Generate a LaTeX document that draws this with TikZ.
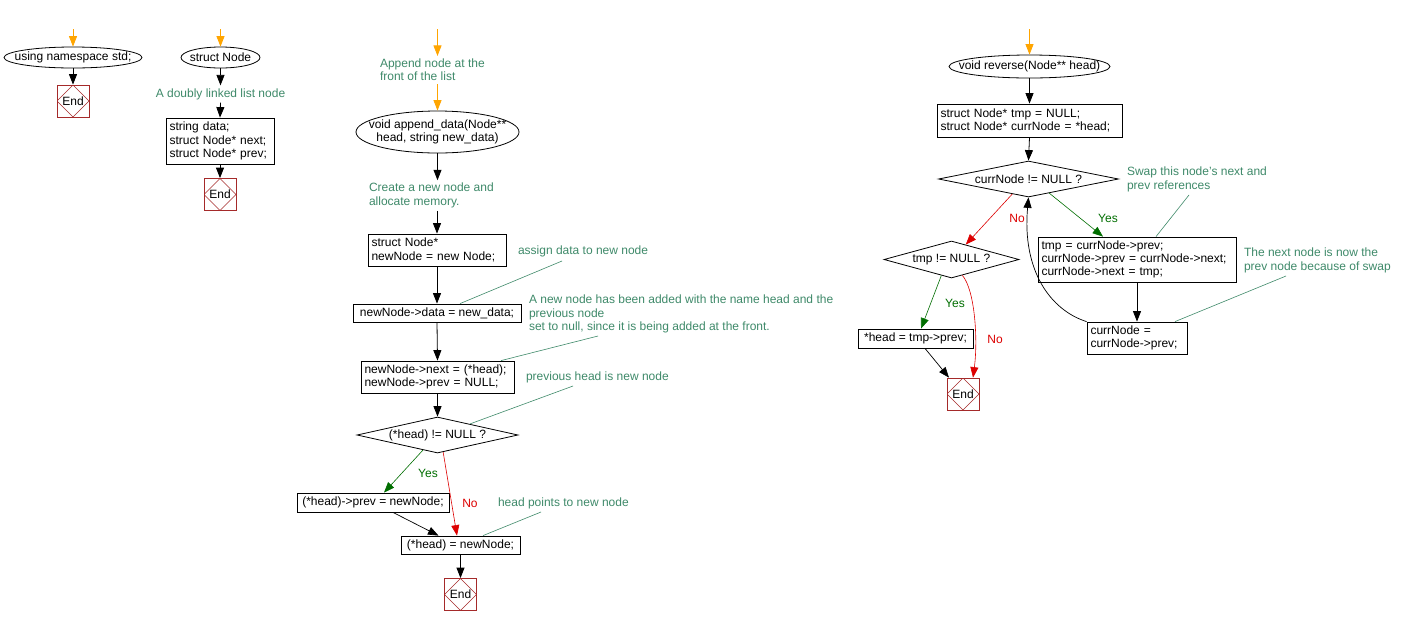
\documentclass[tikz,border=0pt]{standalone}
\usepackage{fontspec}
\setmainfont{Liberation Sans}
\usetikzlibrary{shapes.geometric,arrows.meta,calc}
\definecolor{cmt}{HTML}{3F8A6A}
\definecolor{yesc}{HTML}{006E00}
\definecolor{noc}{HTML}{DD0000}
\definecolor{endc}{HTML}{A52A2A}
\definecolor{orng}{HTML}{FFA500}
\begin{document}
\begin{tikzpicture}[x=1pt,y=-1pt,
  font=\fontsize{12}{13.3}\selectfont,
  line width=0.8pt,
  blk/.style={draw, rectangle, inner xsep=3.5pt, inner ysep=0pt, align=left},
  ell/.style={draw, ellipse, inner sep=0pt},
  dia/.style={draw, diamond, inner sep=0pt},
  endn/.style={draw=endc, rectangle, minimum width=32, minimum height=32, inner sep=0pt,
    path picture={\draw[endc, line width=0.6pt] (path picture bounding box.north) -- (path picture bounding box.east) -- (path picture bounding box.south) -- (path picture bounding box.west) -- cycle;}},
  cmnt/.style={text=cmt, inner sep=0pt, outer sep=3pt, align=left},
  arr/.style={-{Triangle[width=8pt,length=10.5pt]}},
  oarr/.style={arr, draw=orng, fill=orng},
  yarr/.style={arr, draw=yesc, line width=0.6pt},
  narr/.style={arr, draw=noc, line width=0.6pt},
  lead/.style={draw=cmt, line width=0.6pt},
  ylab/.style={text=yesc, inner sep=0pt},
  nlab/.style={text=noc, inner sep=0pt}]
\useasboundingbox (0,0) rectangle (1406,625);
\fill[white] (0,0) rectangle (1406,625);

% ---------- column 1 ----------
\coordinate (o1) at (73,29);
\node[ell, minimum width=138, minimum height=21] (ns) at (73,57.5) {\makebox[0pt]{using namespace std;}};
\node[endn] (e1) at (73,101) {End};

% ---------- column 2 ----------
\coordinate (o2) at (220.5,29);
\node[ell, minimum width=79, minimum height=21] (sn) at (220.5,57.5) {\makebox[0pt]{struct Node}};
\node[cmnt] (c2) at (220.5,94) {A doubly linked list node};
\node[blk, minimum width=108, minimum height=46, text width=101] (b2) at (220,141) {string data;\\struct Node* next;\\struct Node* prev;};
\node[endn] (e2) at (220,194.5) {End};

% ---------- column 3 ----------
\coordinate (o3) at (437.5,29);
\node[cmnt, anchor=west] (c3a) at (377,70) {Append node at the\\front of the list};
\node[ell, minimum width=163, minimum height=42] (ap) at (437.5,132) {\makebox[0pt]{\begin{tabular}{@{}c@{}}void append\_data(Node**\\head, string new\_data)\end{tabular}}};
\node[cmnt, anchor=west] (c3b) at (366,195.5) {Create a new node and\\allocate memory.};
\node[blk, minimum width=138, minimum height=32, text width=131] (b3a) at (437,250) {struct Node*\\newNode = new Node;};
\node[blk, minimum width=168, minimum height=18] (b3b) at (437,313) {newNode->data = new\_data;};
\node[blk, minimum width=153, minimum height=32, text width=146] (b3c) at (437.5,377) {newNode->next = (*head);\\newNode->prev = NULL;};
\node[dia, minimum width=161, minimum height=36] (d3) at (437.5,435) {\makebox[0pt]{(*head) != NULL ?}};
\node[blk, minimum width=152, minimum height=19] (b3d) at (373,502.5) {(*head)->prev = newNode;};
\node[blk, minimum width=119, minimum height=18] (b3e) at (460.5,545) {(*head) = newNode;};
\node[endn] (e3) at (460.5,594.5) {End};
\node[cmnt, anchor=west] (c3c) at (515,251) {assign data to new node};
\node[cmnt, anchor=west] (c3d) at (526,314) {A new node has been added with the name head and the\\previous node\\set to null, since it is being added at the front.};
\node[cmnt, anchor=west] (c3e) at (523,377) {previous head is new node};
\node[cmnt, anchor=west] (c3f) at (495,503) {head points to new node};
\node[ylab] (y3) at (428,473) {Yes};
\node[nlab] (n3) at (470,503) {No};
\coordinate (l3c) at (562,261);
\coordinate (l3d) at (598,336);
\coordinate (l3e) at (573,386);
\coordinate (l3f) at (541,512);

% ---------- column 4 ----------
\coordinate (o4) at (1029.5,29);
\node[ell, minimum width=161, minimum height=23] (rv) at (1029.5,66.5) {\makebox[0pt]{void reverse(Node** head)}};
\node[blk, minimum width=185, minimum height=33, text width=178] (b4a) at (1029.5,120.5) {struct Node* tmp = NULL;\\struct Node* currNode = *head;};
\node[dia, minimum width=180, minimum height=36] (d4) at (1028.5,179) {\makebox[0pt]{currNode != NULL ?}};
\node[dia, minimum width=135, minimum height=37] (d4b) at (951.5,259.5) {\makebox[0pt]{tmp != NULL ?}};
\node[blk, minimum width=198, minimum height=45, text width=191] (b4b) at (1137,259.5) {tmp = currNode->prev;\\currNode->prev = currNode->next;\\currNode->next = tmp;};
\node[blk, minimum width=100, minimum height=32, text width=93] (b4c) at (1137,338) {currNode =\\currNode->prev;};
\node[blk, minimum width=115, minimum height=19] (b4d) at (915.5,338.5) {*head = tmp->prev;};
\node[endn] (e4) at (963,394) {End};
\node[cmnt, anchor=west] (c4a) at (1124,179.5) {Swap this node's next and\\prev references};
\node[cmnt, anchor=west] (c4b) at (1241,260.5) {The next node is now the\\prev node because of swap};
\node[nlab] (n4) at (1017,218) {No};
\node[ylab] (y4) at (1108,218) {Yes};
\node[ylab] (y4b) at (955,303) {Yes};
\node[nlab] (n4b) at (995,339) {No};
\coordinate (l4a) at (1189,195);
\coordinate (l4b) at (1286,276);

% ---------- connectors ----------
\draw[oarr] (o1) -- (ns.north);
\draw[arr] (ns.south) -- (e1.north);

\draw[oarr] (o2) -- (sn.north);
\draw[arr] (sn.south) -- (c2.north);
\draw[arr] (c2.south) -- (b2.north);
\draw[arr] (b2.south) -- (e2.north);

\draw[oarr] (o3) -- (c3a.north -| o3);
\draw[oarr] (c3a.south -| o3) -- (ap.north);
\draw[arr] (ap.south) -- (c3b.north -| ap.south);
\draw[arr] (c3b.south -| b3a.north) -- (b3a.north);
\draw[arr] (b3a.south) -- (b3b.north);
\draw[arr] (b3b.south) -- (b3c.north);
\draw[arr] (b3c.south) -- (d3.north);
\draw[yarr] ($(d3.south)!0.18!(d3.west)$) -- ([xshift=11pt]b3d.north);
\draw[narr] ($(d3.south)!0.07!(d3.east)$) -- ([xshift=-3.5pt]b3e.north);
\draw[arr, line width=0.7pt] ([xshift=20pt]b3d.south) -- ([xshift=-22pt]b3e.north);
\draw[arr] (b3e.south) -- (e3.north);
\draw[lead] (l3c) -- ([xshift=23pt]b3b.north);
\draw[lead] (l3d) -- ([xshift=63.5pt]b3c.north);
\draw[lead] (l3e) -- ($(d3.north)!0.4!(d3.east)$);
\draw[lead] (l3f) -- ([xshift=22.5pt]b3e.north);

\draw[oarr] (o4) -- (rv.north);
\draw[arr] (rv.south) -- (b4a.north);
\draw[arr] (b4a.south) -- (d4.north);
\draw[yarr] ($(d4.south)!0.23!(d4.east)$) -- ([xshift=-34pt]b4b.north);
\draw[narr] ($(d4.south)!0.18!(d4.west)$) -- ($(d4b.north)!0.21!(d4b.east)$);
\draw[arr] (b4b.south) -- (b4c.north);
\draw[arr, line width=0.7pt] (b4c.north west) .. controls (1050,310) and (1022,270) .. (d4.south);
\draw[yarr] ($(d4b.south)!0.15!(d4b.west)$) -- ([xshift=5.5pt]b4d.north);
\draw[narr] ($(d4b.south)!0.16!(d4b.east)$) .. controls (975,290) and (978,340) .. ([xshift=10pt]e4.north);
\draw[arr, line width=0.7pt] ([xshift=9.5pt]b4d.south) -- ([xshift=-14pt]e4.north);
\draw[lead] (l4a) -- ([xshift=19pt]b4b.north);
\draw[lead] (l4b) -- ([xshift=38pt]b4c.north);
\end{tikzpicture}
\end{document}
